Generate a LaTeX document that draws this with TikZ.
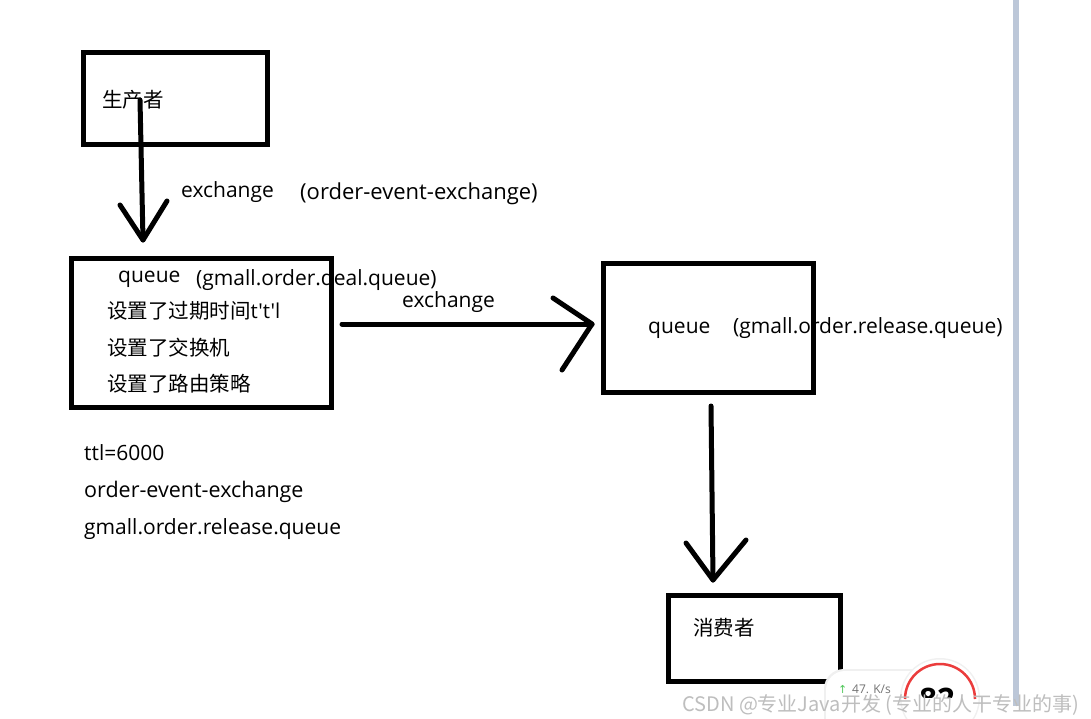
\documentclass[tikz,border=0pt]{standalone}
\usepackage{fontspec}
\setmainfont{Open Sans}
\newfontfamily\plainfont{Open Sans}[Ligatures=TeXOff]
\newfontfamily\cjk{Noto Sans CJK SC}
\newfontfamily\sym{DejaVu Sans}
\begin{document}
\begin{tikzpicture}[x=1pt,y=-1pt,
  box/.style={draw=black,line width=5pt,inner sep=0pt,fill=none},
  hand/.style={line width=5pt,line cap=round,line join=round},
  lbl/.style={anchor=base west,inner sep=0pt,font=\fontsize{21}{24}\selectfont},
  clbl/.style={anchor=base west,inner sep=0pt,font=\cjk\fontsize{20.5}{24}\selectfont}]
\useasboundingbox (0,0) rectangle (1091,719);
\fill[white] (0,0) rectangle (1091,719);
% side bar
\fill[fill={rgb,255:red,188;green,199;blue,216}] (1013,0) rectangle (1019,706);
% texts (drawn under boxes)
\node[clbl] (tprod) at (102,108) {生产者};
\node[lbl] (tex1) at (181,198) {exchange};
\node[lbl,font=\fontsize{22}{24}\selectfont] (tex1b) at (300,200) {(order-event-exchange)};
\node[lbl] (tq1) at (118,282) {queue};
\node[lbl] (tq1b) at (196,285) {(gmall.order.deal.queue)};
\node[clbl] (t1) at (107,318) {设置了过期时间{\plainfont t't'l}};
\node[clbl] (t2) at (107,355) {设置了交换机};
\node[clbl] (t3) at (107,391) {设置了路由策略};
\node[lbl] (tex2) at (402,307) {exchange};
\node[lbl] (tq2) at (648,333) {queue};
\node[lbl] (tq2b) at (733,333) {(gmall.order.release.queue)};
\node[lbl] (n1) at (84,460) {ttl=6000};
\node[lbl,font=\fontsize{21.5}{24}\selectfont] (n2) at (84,497) {order-event-exchange};
\node[lbl] (n3) at (84,534) {gmall.order.release.queue};
\node[clbl] (tcons) at (693,635) {消费者};
% boxes
\node[box,minimum width=184pt,minimum height=92pt] (prod) at (175,99) {};
\node[box,minimum width=260pt,minimum height=149pt] (q1) at (201.5,333) {};
\node[box,minimum width=210pt,minimum height=129pt] (q2) at (708.5,328) {};
\node[box,minimum width=172pt,minimum height=86pt] (cons) at (754.5,638.5) {};
% connector end points
\coordinate (a1s) at (140,100);
\coordinate (a1e) at (143,240);
\coordinate (a2s) at (342,324);
\coordinate (a2e) at (592,324);
\coordinate (a3s) at (711,406);
\coordinate (a3e) at (713,580);
% connectors
\draw[hand] (a1s) -- (a1e);
\draw[hand] (120,205) -- (a1e) -- (167,201);
\draw[hand] (a2s) -- (380,324) -- (a2e);
\draw[hand] (553,298) -- (a2e) -- (562,370);
\draw[hand] (a3s) -- (a3e);
\draw[hand] (686,543) -- (a3e) -- (746,540);
% widget
\fill[black!6,rounded corners=20pt] (824,669) rectangle (960,740);
\fill[white,rounded corners=19pt] (826,671) rectangle (960,740);
\node[anchor=base west,inner sep=0pt,font=\sym\fontsize{11}{12}\selectfont,text={rgb,255:red,80;green,200;blue,90}] (up) at (838,693) {↑};
\node[anchor=base west,inner sep=0pt,font=\fontsize{12}{12}\selectfont,text=black!55] (spd) at (852,693) {47. K/s};
\fill[black!6] (940,698) circle[radius=40pt];
\fill[white] (940,698) circle[radius=38.5pt];
\draw[line width=2.5pt,color={rgb,255:red,235;green,60;blue,60}] (905,699) arc[start angle=180,end angle=0,radius=35pt];
\begin{scope}
\clip (900,660) rectangle (985,697);
\node[anchor=base,inner sep=0pt,font=\bfseries\fontsize{31}{32}\selectfont] (num) at (937,710) {82};
\end{scope}
% watermark
\node[anchor=base west,inner sep=0pt,font=\cjk\fontsize{20}{22}\selectfont,text={rgb,255:red,190;green,190;blue,190}] (wm) at (682,711) {CSDN @专业Java开发 (专业的人干专业的事)};
\end{tikzpicture}
\end{document}
